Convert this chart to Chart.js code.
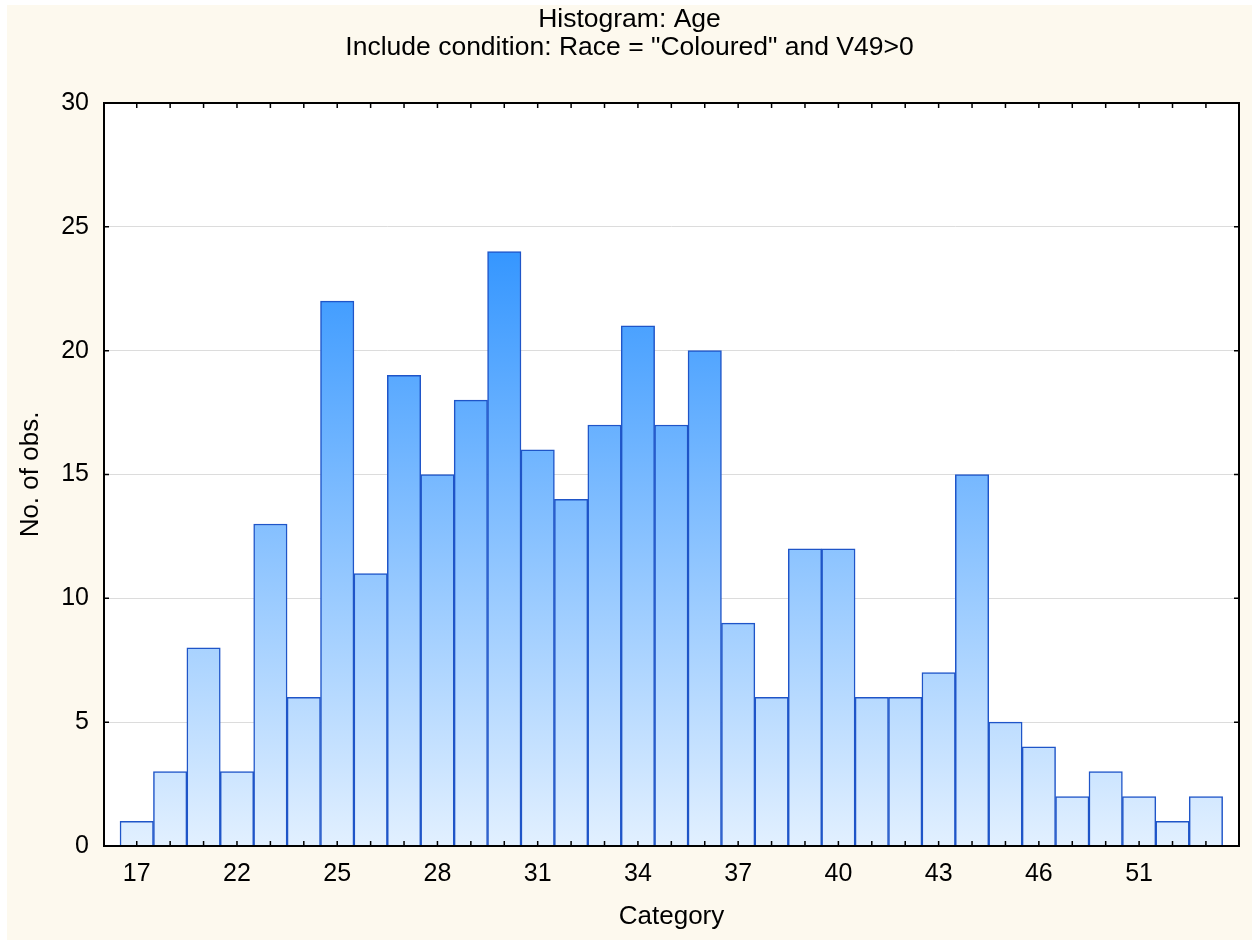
<!DOCTYPE html>
<html>
<head>
<meta charset="utf-8">
<script src="https://cdn.jsdelivr.net/npm/chart.js@4.4.0/dist/chart.umd.min.js"></script>
<style>
    html, body { margin: 0; padding: 0; background: #fff; }
    #wrap { position: relative; width: 1252px; height: 940px; }
</style>
</head>
<body>
<div id="wrap"><canvas id="histogram"></canvas></div>
<script>
// === Data ===
const categories = ['17', '18', '20', '22', '23', '24', '25', '26', '27', '28', '29', '30', '31', '32', '33', '34',
    '35', '36', '37', '38', '39', '40', '41', '42', '43', '44', '45', '46', '48', '49', '51', '52', '53'];
const observations = [1, 3, 8, 3, 13, 6, 22, 11, 19, 15, 18, 24, 16, 14, 17, 21,
    17, 20, 9, 6, 12, 12, 6, 6, 7, 15, 5, 4, 2, 3, 2, 1, 2];
const yTicks = [0, 5, 10, 15, 20, 25, 30];

const font = "'Liberation Sans', Arial, sans-serif";

// background, white plot area, black frame and inner tick marks
const frame = {
    id: 'frame',
    beforeDraw(chart) {
        const { ctx, chartArea: a } = chart;
        ctx.save();
        ctx.fillStyle = '#fff';
        ctx.fillRect(0, 0, chart.width, chart.height);
        ctx.fillStyle = '#fdf9ee';
        ctx.fillRect(7, 5, chart.width - 7, chart.height - 5);
        ctx.fillStyle = '#fff';
        ctx.fillRect(a.left, a.top, a.right - a.left, a.bottom - a.top);
        ctx.restore();
    },
    afterDraw(chart) {
        const { ctx, chartArea: a } = chart;
        const x = chart.scales.x;
        const y = chart.scales.y;
        ctx.save();
        ctx.strokeStyle = '#000';
        ctx.lineWidth = 1.5;
        ctx.beginPath();
        categories.forEach((c, i) => {
            const px = x.getPixelForValue(i);
            ctx.moveTo(px, a.bottom);
            ctx.lineTo(px, a.bottom - 5);
            ctx.moveTo(px, a.top);
            ctx.lineTo(px, a.top + 5);
        });
        yTicks.forEach(v => {
            const py = y.getPixelForValue(v);
            ctx.moveTo(a.left, py);
            ctx.lineTo(a.left + 5, py);
            ctx.moveTo(a.right, py);
            ctx.lineTo(a.right - 5, py);
        });
        ctx.stroke();
        ctx.lineWidth = 2;
        ctx.strokeRect(a.left, a.top, a.right - a.left, a.bottom - a.top);
        ctx.restore();
    }
};

function barGradient(context) {
    const a = context.chart.chartArea;
    if (!a) return '#8cc4ff';
    const g = context.chart.ctx.createLinearGradient(0, a.bottom, 0, a.top);
    g.addColorStop(0, 'rgb(226, 240, 255)');
    g.addColorStop(1, 'rgb(10, 128, 255)');
    return g;
}

const ctxHist = document.getElementById('histogram').getContext('2d');

new Chart(ctxHist, {
    type: 'bar',
    data: {
        datasets: [{
            label: 'No. of obs.',
            data: observations.map((v, i) => ({ x: i, y: v })),
            backgroundColor: barGradient,
            borderColor: '#1f55c8',
            borderWidth: 1.5,
            barPercentage: 1,
            categoryPercentage: 1
        }]
    },
    plugins: [frame],
    options: {
        responsive: true,
        maintainAspectRatio: false,
        animation: false,
        layout: {
            padding: { left: 20, right: 13, top: 0, bottom: 0 }
        },
        plugins: {
            legend: { display: false },
            tooltip: { enabled: false },
            title: {
                display: true,
                text: 'Histogram: Age',
                color: '#000',
                font: { family: font, size: 26.5, weight: 'normal', lineHeight: '28px' },
                padding: { top: 6, bottom: 0 }
            },
            subtitle: {
                display: true,
                text: 'Include condition: Race = "Coloured" and V49>0',
                color: '#000',
                font: { family: font, size: 26.5, weight: 'normal', lineHeight: '28px' },
                padding: { top: 0, bottom: 41 }
            }
        },
        scales: {
            x: {
                type: 'linear',
                offset: false,
                min: -0.98,
                max: 32.99,
                afterFit: scale => { scale.height = 94; },
                afterBuildTicks: scale => {
                    scale.ticks = categories.map((c, i) => ({ value: i }));
                },
                ticks: {
                    color: '#000',
                    padding: 13,
                    autoSkip: false,
                    maxRotation: 0,
                    font: { family: font, size: 25 },
                    callback: value => (value % 3 === 0 ? categories[value] : '')
                },
                grid: { display: false, drawTicks: false, offset: false },
                border: { display: false },
                title: {
                    display: true,
                    text: 'Category',
                    color: '#000',
                    font: { family: font, size: 26 },
                    padding: { top: 0, bottom: 8 }
                }
            },
            y: {
                min: 0,
                max: 30,
                afterFit: scale => { scale.width = 84; },
                ticks: {
                    stepSize: 5,
                    color: '#000',
                    padding: 15,
                    font: { family: font, size: 25 }
                },
                grid: {
                    drawTicks: false,
                    lineWidth: 1,
                    color: c => (c.tick.value > 0 && c.tick.value < 30 ? '#dcdcdc' : 'rgba(0,0,0,0)')
                },
                border: { display: false },
                title: {
                    display: true,
                    text: 'No. of obs.',
                    color: '#000',
                    font: { family: font, size: 26, lineHeight: 1 },
                    padding: { top: -2, bottom: 0 }
                }
            }
        }
    }
});
</script>
</body>
</html>
